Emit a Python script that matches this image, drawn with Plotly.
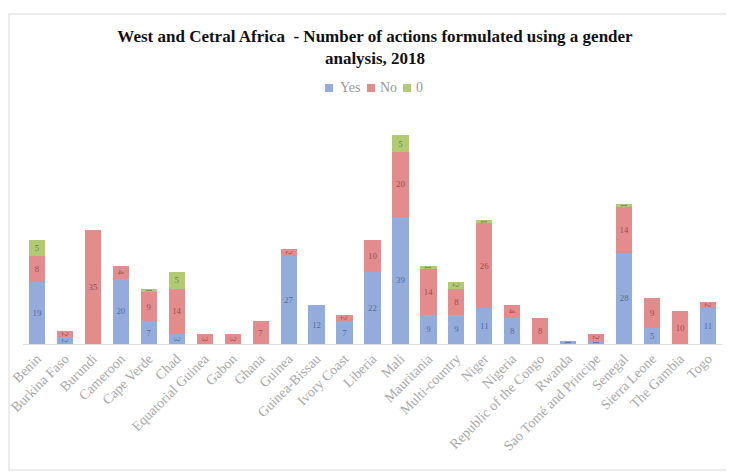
import plotly.graph_objects as go

countries = ["Benin", "Burkina Faso", "Burundi", "Cameroon", "Cape Verde", "Chad",
             "Equatorial Guinea", "Gabon", "Ghana", "Guinea", "Guinea-Bissau", "Ivory Coast",
             "Liberia", "Mali", "Mauritania", "Multi-country", "Niger", "Nigeria",
             "Republic of the Congo", "Rwanda", "Sao Tomé and Principe", "Senegal",
             "Sierra Leone", "The Gambia", "Togo"]
yes_vals = [19, 2, 0, 20, 7, 3, 0, 0, 0, 27, 12, 7, 22, 39, 9, 9, 11, 8, 0, 1, 1, 28, 5, 0, 11]
no_vals = [8, 2, 35, 4, 9, 14, 3, 3, 7, 2, 0, 2, 10, 20, 14, 8, 26, 4, 8, 0, 2, 14, 9, 10, 2]
zero_vals = [5, 0, 0, 0, 1, 5, 0, 0, 0, 0, 0, 0, 0, 5, 1, 2, 1, 0, 0, 0, 0, 1, 0, 0, 0]
series_names = ["Yes", "No", "0"]

# page body has an 8px margin, so the figure is drawn offset by (8, 8)
OFF = 8
W, H = 734, 473
ml, mr, mt, mb = 23 - OFF, 12 + OFF, 110 - OFF, 129 + OFF
plot_w = W - ml - mr
plot_h = H - mt - mb
px_per_unit = 3.26
ymax = plot_h / px_per_unit

def labels(vals):
    return [str(v) if v > 0 else "" for v in vals]

colors = ["rgba(128,157,214,0.85)", "rgba(222,120,122,0.85)", "rgba(170,196,100,0.9)"]
text_colors = ["rgba(60,80,130,0.75)", "rgba(130,50,55,0.75)", "rgba(90,110,40,0.8)"]

fig = go.Figure()
for name, vals, col, tcol in zip(series_names, [yes_vals, no_vals, zero_vals], colors, text_colors):
    fig.add_trace(go.Bar(
        name=name, x=countries, y=vals,
        marker=dict(color=col, line=dict(width=0)),
        text=labels(vals), textposition="inside", insidetextanchor="middle",
        textfont=dict(family="Liberation Serif", size=13, color=tcol),
        cliponaxis=False, showlegend=False,
    ))

def px_x(x):
    return (x - OFF - ml) / plot_w

def px_y(y):
    return (H - mb - (y - OFF)) / plot_h

# manual legend (compact, like the original)
shapes = [dict(type="rect", xref="paper", yref="paper",
               x0=px_x(9), x1=px_x(733), y0=px_y(470), y1=px_y(14),
               line=dict(color="#e6e6e6", width=1.5), layer="below")]
annotations = []
legend_sq_x = [325, 367, 403]
legend_txt_x = [338, 378, 414]
ly = 88
for sx, tx, name, col in zip(legend_sq_x, legend_txt_x, series_names, colors):
    shapes.append(dict(type="rect", xref="paper", yref="paper",
                       x0=px_x(sx), x1=px_x(sx + 8), y0=px_y(ly + 4), y1=px_y(ly - 4),
                       fillcolor=col, line=dict(width=0)))
    annotations.append(dict(xref="paper", yref="paper", x=px_x(tx), y=px_y(ly),
                            xanchor="left", yanchor="middle", showarrow=False, text=name,
                            font=dict(family="Liberation Serif", size=14, color="#999999")))

fig.update_layout(
    width=W, height=H,
    barmode="stack", bargap=0.42,
    margin=dict(l=ml, r=mr, t=mt, b=mb, autoexpand=False),
    paper_bgcolor="white", plot_bgcolor="white",
    uniformtext=dict(minsize=8, mode="show"),
    showlegend=False,
    title=dict(
        text="<b>West and Cetral Africa  - Number of actions formulated using a gender<br>analysis, 2018</b>",
        x=px_x(375), xref="paper", xanchor="center", y=1 - (42 - OFF) / H, yanchor="top",
        font=dict(family="Liberation Serif", size=17, color="#111111"),
    ),
    xaxis=dict(tickangle=-45, showline=True, linecolor="#e0e0e0", linewidth=1,
               ticks="", showgrid=False, automargin=False,
               tickfont=dict(family="Liberation Serif", size=14, color="#a8a8a8")),
    yaxis=dict(range=[0, ymax], visible=False, showgrid=False),
    shapes=shapes,
    annotations=annotations,
)

fig.write_html("out.html")
